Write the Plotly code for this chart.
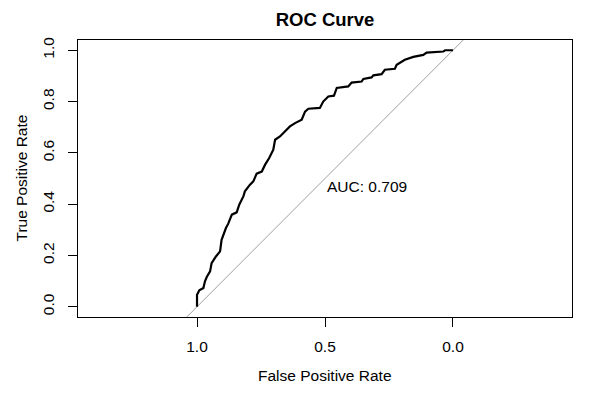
import plotly.graph_objects as go

# ROC curve data (specificity on reversed x axis)
specificity = [1.000, 1.000, 0.991, 0.975, 0.969, 0.962, 0.949, 0.943, 0.926, 0.910,
               0.904, 0.897, 0.887, 0.878, 0.864, 0.845, 0.835, 0.819, 0.813, 0.793,
               0.780, 0.767, 0.747, 0.734, 0.718, 0.702, 0.695, 0.676, 0.656, 0.637,
               0.617, 0.591, 0.578, 0.565, 0.520, 0.507, 0.487, 0.465, 0.454, 0.409,
               0.396, 0.357, 0.350, 0.318, 0.311, 0.279, 0.266, 0.227, 0.220, 0.188,
               0.155, 0.116, 0.103, 0.038, 0.031, 0.000]
sensitivity = [0.000, 0.047, 0.064, 0.073, 0.099, 0.116, 0.138, 0.170, 0.196, 0.216,
               0.261, 0.281, 0.307, 0.324, 0.359, 0.368, 0.398, 0.430, 0.450, 0.476,
               0.489, 0.519, 0.527, 0.554, 0.580, 0.612, 0.651, 0.664, 0.683, 0.703,
               0.716, 0.729, 0.761, 0.772, 0.775, 0.800, 0.820, 0.823, 0.853, 0.859,
               0.874, 0.878, 0.888, 0.894, 0.902, 0.907, 0.924, 0.928, 0.943, 0.963,
               0.974, 0.982, 0.991, 0.995, 1.000, 1.000]

identity_spec = [1.6, -0.6]
identity_sens = [1 - s for s in identity_spec]

x_ticks = [1.0, 0.5, 0.0]
x_tick_labels = ["1.0", "0.5", "0.0"]
y_ticks = [0.0, 0.2, 0.4, 0.6, 0.8, 1.0]
y_tick_labels = ["0.0", "0.2", "0.4", "0.6", "0.8", "1.0"]
auc_value = 0.709

FONT = "Arial, Liberation Sans, sans-serif"
W, H = 613, 396
L, R, T, B = 78, 41, 40, 79

fig = go.Figure()
fig.add_trace(go.Scatter(x=identity_spec, y=identity_sens, mode="lines",
                         line=dict(color="#a0a0a0", width=1), hoverinfo="skip",
                         showlegend=False))
fig.add_trace(go.Scatter(x=specificity, y=sensitivity, mode="lines",
                         line=dict(color="black", width=2.2),
                         showlegend=False))

fig.add_annotation(x=0.5, y=0.469, text=f"AUC: {auc_value:.3f}", showarrow=False,
                   xanchor="left", yanchor="middle",
                   font=dict(family=FONT, size=15.5, color="black"))

# axis titles
fig.add_annotation(xref="paper", yref="paper", x=0.5, y=-(375 - (H - B)) / (H - T - B),
                   text="False Positive Rate", showarrow=False,
                   xanchor="center", yanchor="middle",
                   font=dict(family=FONT, size=15.5, color="black"))
fig.add_annotation(xref="paper", yref="paper", x=-(L - 21) / (W - L - R), y=0.5,
                   text="True Positive Rate", showarrow=False, textangle=-90,
                   xanchor="center", yanchor="middle",
                   font=dict(family=FONT, size=15.5, color="black"))

axis_common = dict(showgrid=False, zeroline=False, showline=True, linecolor="black",
                   linewidth=1, mirror=True, ticks="outside", ticklen=9,
                   tickcolor="black", tickwidth=1, automargin=False,
                   tickfont=dict(family=FONT, size=15.5, color="black"))

fig.update_layout(
    width=W, height=H,
    margin=dict(l=L, r=R, t=T, b=B),
    paper_bgcolor="white", plot_bgcolor="white",
    title=dict(text="<b>ROC Curve</b>", x=(L + W - R) / 2 / W, xanchor="center",
               y=1 - 20 / H, yanchor="middle",
               font=dict(family=FONT, size=18.5, color="black")),
    xaxis=dict(range=[1.465, -0.465], tickvals=x_ticks, ticktext=x_tick_labels,
               ticklabelstandoff=6, **axis_common),
    yaxis=dict(range=[-0.04, 1.04], tickvals=y_ticks, ticktext=y_tick_labels,
               tickangle=-90, ticklabelstandoff=8, **axis_common),
)

fig.write_html("out.html", config={"displayModeBar": False},
               post_script="document.body.style.margin='0';document.body.style.overflow='hidden';")
